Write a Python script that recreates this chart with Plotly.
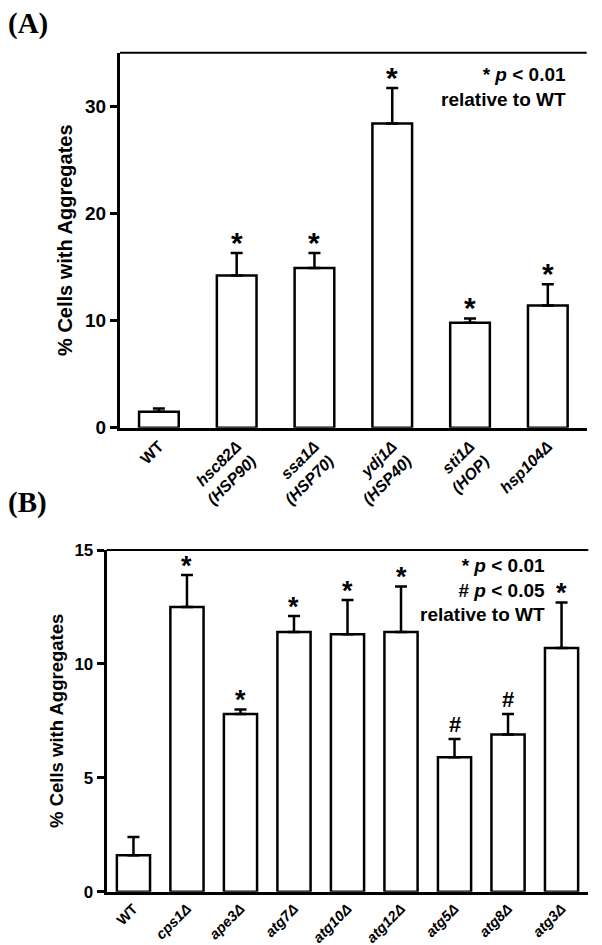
import plotly.graph_objects as go

W, H = 602, 945
OFF = 8  # default page body margin: the figure starts 8 px right/down in the page

# ---------------- data ----------------
cats_a = ["WT", "hsc82", "ssa1", "ydj1", "sti1", "hsp104"]
labels_a = ["WT", "<i>hsc82Δ</i><br><i>(HSP90)</i>", "<i>ssa1Δ</i><br><i>(HSP70)</i>",
            "<i>ydj1Δ</i><br><i>(HSP40)</i>", "<i>sti1Δ</i><br><i>(HOP)</i>", "<i>hsp104Δ</i>"]
vals_a = [1.5, 14.2, 14.9, 28.4, 9.8, 11.4]
err_a = [0.3, 2.1, 1.4, 3.3, 0.4, 2.0]
sig_a = ["", "*", "*", "*", "*", "*"]

cats_b = ["WT", "cps1", "ape3", "atg7", "atg10", "atg12", "atg5", "atg8", "atg3"]
labels_b = ["WT", "<i>cps1Δ</i>", "<i>ape3Δ</i>", "<i>atg7Δ</i>", "<i>atg10Δ</i>",
            "<i>atg12Δ</i>", "<i>atg5Δ</i>", "<i>atg8Δ</i>", "<i>atg3Δ</i>"]
vals_b = [1.6, 12.5, 7.8, 11.4, 11.3, 11.4, 5.9, 6.9, 10.7]
err_b = [0.8, 1.4, 0.2, 0.7, 1.5, 2.0, 0.8, 0.9, 2.0]
sig_b = ["", "*", "*", "*", "*", "*", "#", "#", "*"]

ticks_a_left = [0, 10, 20, 30]
ticks_a_right = [0, 5, 10, 15, 20, 25, 30, 35]
ticks_b = [0, 5, 10, 15]

FONT = "Liberation Sans"


def px_x(p):
    return (p - OFF) / W


def px_y(p):
    return 1 - (p - OFF) / H


fig = go.Figure()

bar_style = dict(color="white", line=dict(color="black", width=2.5))

fig.add_trace(go.Bar(
    x=cats_a, y=vals_a, xaxis="x", yaxis="y", width=0.51, marker=bar_style,
    error_y=dict(type="data", symmetric=False, array=err_a, arrayminus=[0] * len(err_a),
                 color="black", thickness=2.5, width=6),
    showlegend=False))
fig.add_trace(go.Bar(
    x=cats_b, y=vals_b, xaxis="x2", yaxis="y2", width=0.62, marker=bar_style,
    error_y=dict(type="data", symmetric=False, array=err_b, arrayminus=[0] * len(err_b),
                 color="black", thickness=2.5, width=6),
    showlegend=False))

axfont = dict(family=FONT, color="black", weight="bold")

dom_ax = [px_x(120), px_x(586.7)]
dom_ay = [px_y(427.7), px_y(52.7)]
dom_bx = [px_x(106.7), px_x(588.3)]
dom_by = [px_y(891.7), px_y(550)]

common_x = dict(type="category", showline=True, linewidth=3, linecolor="black", ticks="",
                tickangle=-45, showgrid=False, zeroline=False, automargin=False)
common_y = dict(showline=True, linewidth=3, linecolor="black", ticks="outside", ticklen=7,
                tickwidth=3, tickcolor="black", showgrid=False, zeroline=False, automargin=False)

fig.update_layout(
    width=W, height=H, autosize=False,
    margin=dict(l=0, r=0, t=0, b=0, pad=0),
    paper_bgcolor="white", plot_bgcolor="white",
    font=dict(family=FONT, color="black"),
    xaxis=dict(domain=dom_ax, anchor="y", range=[-0.5, 5.5], tickvals=cats_a, ticktext=labels_a,
               tickfont=dict(size=16, **axfont), **common_x),
    yaxis=dict(domain=dom_ay, anchor="x", range=[0, 35], tickvals=ticks_a_left,
               tickfont=dict(size=19, **axfont),
               title=dict(text="% Cells with Aggregates", font=dict(size=20, **axfont), standoff=8),
               **common_y),
    yaxis3=dict(overlaying="y", anchor="x", side="right", range=[0, 35], tickvals=ticks_a_right,
                showticklabels=False, **common_y),
    xaxis2=dict(domain=dom_bx, anchor="y2", range=[-0.5, 8.5], tickvals=cats_b, ticktext=labels_b,
                tickfont=dict(size=14.5, **axfont), **common_x),
    yaxis2=dict(domain=dom_by, anchor="x2", range=[0, 15], tickvals=ticks_b,
                tickfont=dict(size=17, **axfont),
                title=dict(text="% Cells with Aggregates", font=dict(size=18.5, **axfont), standoff=6),
                **common_y),
    yaxis4=dict(overlaying="y2", anchor="x2", side="right", range=[0, 15], tickvals=ticks_b,
                showticklabels=False, **common_y),
)

fig.add_shape(type="line", xref="x domain", yref="y domain", x0=0, x1=1, y0=1, y1=1,
              line=dict(color="black", width=2))
fig.add_shape(type="line", xref="x2 domain", yref="y2 domain", x0=0, x1=1, y0=1, y1=1,
              line=dict(color="black", width=2))

# significance markers above the error bars
for xs, ys, es, ss, xr, yr in [(cats_a, vals_a, err_a, sig_a, "x", "y"),
                               (cats_b, vals_b, err_b, sig_b, "x2", "y2")]:
    for c, v, e, s in zip(xs, ys, es, ss):
        if not s:
            continue
        if s == "*":
            size, shift = (30, -8) if xr == "x" else (27, -8)
        else:
            size, shift = 22, 0
        fig.add_annotation(xref=xr, yref=yr, x=c, y=v + e, text=s, showarrow=False,
                           yanchor="bottom", yshift=shift,
                           font=dict(family=FONT, size=size, color="black", weight="bold"))

fig.add_annotation(xref="paper", yref="paper", x=px_x(568), y=px_y(62), xanchor="right",
                   yanchor="top", align="right", showarrow=False,
                   text="* <i>p</i> < 0.01<br>relative to WT",
                   font=dict(family=FONT, size=19, color="black", weight="bold"))
fig.add_annotation(xref="paper", yref="paper", x=px_x(547), y=px_y(553), xanchor="right",
                   yanchor="top", align="right", showarrow=False,
                   text="* <i>p</i> < 0.01<br># <i>p</i> < 0.05<br>relative to WT",
                   font=dict(family=FONT, size=19, color="black", weight="bold"))

fig.add_annotation(xref="paper", yref="paper", x=px_x(6), y=px_y(5), xanchor="left",
                   yanchor="top", showarrow=False, text="(A)",
                   font=dict(family="Liberation Serif", size=29, color="black", weight="bold"))
fig.add_annotation(xref="paper", yref="paper", x=px_x(6), y=px_y(484), xanchor="left",
                   yanchor="top", showarrow=False, text="(B)",
                   font=dict(family="Liberation Serif", size=29, color="black", weight="bold"))

fig.write_html("out.html")
